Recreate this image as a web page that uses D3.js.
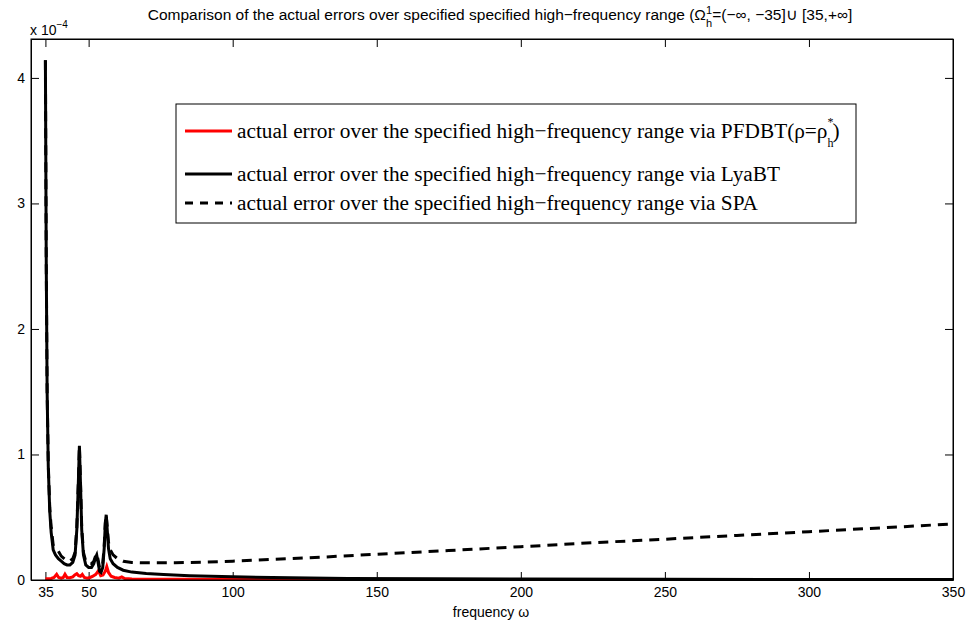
<!DOCTYPE html>
<html>
<head>
<meta charset="utf-8">
<script src="https://cdn.jsdelivr.net/npm/d3@7"></script>
<style>
  body { margin: 0; background: #fff; }
  svg { display: block; }
  .axis text { font-family: "Liberation Sans", Arial, sans-serif; font-size: 14px; fill: #000; }
  .axis path, .axis line { stroke: #000; stroke-width: 1; }
  .lbl { font-family: "Liberation Sans", Arial, sans-serif; font-size: 14px; fill: #000; }
  .ttl { font-family: "Liberation Sans", Arial, sans-serif; font-size: 15.5px; fill: #000; }
  .leg { font-family: "Liberation Serif", "Times New Roman", serif; font-size: 21.3px; fill: #000; }
</style>
</head>
<body>
<svg id="chart" width="967" height="624"></svg>
<script>
// ------------------------------
// DATA (values in units of 1e-4)
// ------------------------------
const freqLya = [35, 35.3, 35.6, 36, 36.5, 37, 37.7, 38.5, 39.5, 40.5, 41.5, 42.5, 43.5, 44.5, 45.3, 45.9, 46.4, 46.8, 47.2, 47.6, 48.2, 49, 50, 51, 51.8, 52.4, 52.8, 53.2, 53.8, 54.3, 54.9, 55.4, 55.8, 56.1, 56.4, 56.9, 57.5, 58.5, 60, 62, 65, 70, 76, 85, 100, 120, 140, 170, 200, 250, 300, 350];
const errLya = [4.14, 2.5, 1.5, 0.9, 0.55, 0.38, 0.24, 0.2, 0.17, 0.15, 0.13, 0.12, 0.12, 0.14, 0.2, 0.4, 0.75, 1.07, 0.75, 0.4, 0.2, 0.12, 0.1, 0.1, 0.13, 0.18, 0.2, 0.15, 0.07, 0.06, 0.1, 0.25, 0.45, 0.52, 0.42, 0.25, 0.17, 0.13, 0.1, 0.078, 0.063, 0.052, 0.043, 0.034, 0.025, 0.017, 0.012, 0.009, 0.007, 0.005, 0.004, 0.003];

const freqSpa = [35, 35.3, 35.6, 36, 36.5, 37, 37.7, 38.5, 39.5, 40.5, 41.5, 42.5, 43.5, 44.5, 45.3, 45.9, 46.4, 46.8, 47.2, 47.6, 48.2, 49, 50, 51, 51.8, 52.4, 52.8, 53.2, 53.8, 54.3, 54.9, 55.4, 55.8, 56.1, 56.4, 56.9, 57.5, 58.5, 60, 62, 65, 70, 80, 90, 100, 125, 150, 175, 200, 225, 250, 275, 300, 325, 350];
const errSpa = [4.14, 2.5, 1.5, 0.92, 0.58, 0.42, 0.28, 0.25, 0.23, 0.19, 0.17, 0.15, 0.15, 0.17, 0.22, 0.42, 0.76, 1.07, 0.76, 0.42, 0.22, 0.15, 0.13, 0.13, 0.15, 0.19, 0.21, 0.17, 0.1, 0.09, 0.13, 0.27, 0.46, 0.52, 0.44, 0.3, 0.24, 0.2, 0.17, 0.15, 0.14, 0.137, 0.138, 0.142, 0.15, 0.175, 0.205, 0.235, 0.265, 0.297, 0.325, 0.355, 0.385, 0.415, 0.447];

const freqPfd = [35, 36, 37, 38, 38.9, 39.6, 40.5, 41.2, 41.8, 42.5, 43.5, 44.5, 45.2, 45.9, 46.5, 47.2, 47.8, 48.5, 49.5, 50.5, 51.5, 52.5, 53.4, 54.2, 55, 55.8, 56.3, 56.9, 57.8, 59, 60.5, 61.5, 62.5, 65, 80, 120, 200, 350];
const errPfd = [0.01, 0.01, 0.012, 0.02, 0.045, 0.02, 0.015, 0.02, 0.046, 0.02, 0.018, 0.025, 0.04, 0.05, 0.035, 0.03, 0.045, 0.02, 0.015, 0.02, 0.03, 0.045, 0.074, 0.035, 0.04, 0.07, 0.106, 0.06, 0.03, 0.02, 0.015, 0.025, 0.012, 0.008, 0.005, 0.004, 0.003, 0.002];

const xTicks = [35, 50, 100, 150, 200, 250, 300, 350];
const yTicks = [0, 1, 2, 3, 4];

// ------------------------------
// LAYOUT
// ------------------------------
const svg = d3.select("#chart");
const L = 31, R = 953, T = 39, B = 580;
const x = d3.scaleLinear().domain([30, 350]).range([L, R]);
const y = d3.scaleLinear().domain([0, 4.31]).range([B, T]);

svg.append("defs").append("clipPath").attr("id", "clip")
  .append("rect").attr("x", L).attr("y", T).attr("width", R - L).attr("height", B - T);

// axes (ticks inward, mirrored on top / right)
svg.append("g").attr("class", "axis").attr("transform", `translate(0,${B})`)
  .call(d3.axisBottom(x).tickValues(xTicks).tickSize(-8).tickPadding(7).tickSizeOuter(0));
svg.append("g").attr("class", "axis").attr("transform", `translate(0,${T})`)
  .call(d3.axisTop(x).tickValues(xTicks).tickSize(-8).tickFormat("").tickSizeOuter(0));
svg.append("g").attr("class", "axis").attr("transform", `translate(${L},0)`)
  .call(d3.axisLeft(y).tickValues(yTicks).tickFormat(d3.format("d")).tickSize(-8).tickPadding(6).tickSizeOuter(0));
svg.append("g").attr("class", "axis").attr("transform", `translate(${R},0)`)
  .call(d3.axisRight(y).tickValues(yTicks).tickSize(-8).tickFormat("").tickSizeOuter(0));

// ------------------------------
// CURVES
// ------------------------------
const line = d3.line().x(d => x(d[0])).y(d => y(d[1]));
const plot = svg.append("g").attr("clip-path", "url(#clip)");

plot.append("path").datum(d3.zip(freqPfd, errPfd)).attr("d", line)
  .attr("fill", "none").attr("stroke", "#ff0000").attr("stroke-width", 3);
plot.append("path").datum(d3.zip(freqLya, errLya)).attr("d", line)
  .attr("fill", "none").attr("stroke", "#000").attr("stroke-width", 3);
plot.append("path").datum(d3.zip(freqSpa, errSpa)).attr("d", line)
  .attr("fill", "none").attr("stroke", "#000").attr("stroke-width", 3).attr("stroke-dasharray", "10,7");

// box
svg.append("rect").attr("x", L).attr("y", T).attr("width", R - L).attr("height", B - T)
  .attr("fill", "none").attr("stroke", "#000").attr("stroke-width", 1);

// ------------------------------
// TEXTS
// ------------------------------
const title = svg.append("text").attr("class", "ttl").attr("x", 500).attr("y", 20).attr("text-anchor", "middle");
title.append("tspan").text("Comparison of the actual errors over specified specified high\u2212frequency range (\u03a9");
title.append("tspan").attr("font-size", 11).attr("dy", -6).text("1");
title.append("tspan").attr("font-size", 11).attr("dx", -6).attr("dy", 13).text("h");
title.append("tspan").attr("dy", -7).text("=(\u2212\u221e, \u221235]\u222a [35,+\u221e]");

const mult = svg.append("text").attr("class", "lbl").attr("x", 30).attr("y", 35);
mult.append("tspan").text("x 10");
mult.append("tspan").attr("font-size", 10).attr("dy", -7).text("\u22124");

svg.append("text").attr("class", "lbl").attr("x", 491).attr("y", 617)
  .attr("text-anchor", "middle").text("frequency \u03c9");

// ------------------------------
// LEGEND
// ------------------------------
const legend = svg.append("g");
legend.append("rect").attr("x", 176).attr("y", 104).attr("width", 680).attr("height", 119)
  .attr("fill", "#fff").attr("stroke", "#000").attr("stroke-width", 1);
const legItems = [
  { y: 131, color: "#ff0000", dash: null, txt: "actual error over the specified high\u2212frequency range via PFDBT(\u03c1=\u03c1" },
  { y: 174, color: "#000", dash: null, txt: "actual error over the specified high\u2212frequency range via LyaBT" },
  { y: 203, color: "#000", dash: "8,7", txt: "actual error over the specified high\u2212frequency range via SPA" }
];
legItems.forEach((it, i) => {
  legend.append("line").attr("x1", 185).attr("x2", 232).attr("y1", it.y).attr("y2", it.y)
    .attr("stroke", it.color).attr("stroke-width", 3).attr("stroke-dasharray", it.dash);
  const t = legend.append("text").attr("class", "leg").attr("x", 237).attr("y", it.y + 7).text(it.txt);
  if (i === 0) {
    t.append("tspan").attr("font-size", 12).attr("dy", -12).text("*");
    t.append("tspan").attr("font-size", 12).attr("dx", -6).attr("dy", 21).text("h");
    t.append("tspan").attr("dx", -1).attr("dy", -9).text(")");
  }
});
</script>
</body>
</html>
